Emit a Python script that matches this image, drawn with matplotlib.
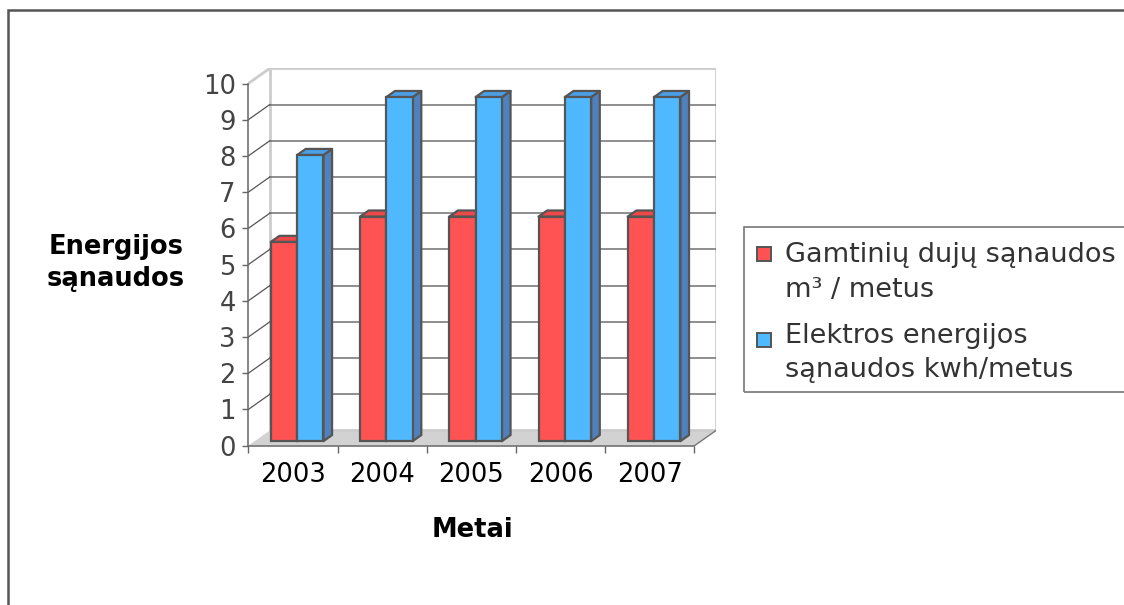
import matplotlib
matplotlib.use("Agg")
import matplotlib.pyplot as plt
from matplotlib.patches import Polygon, Rectangle

# ---- data ----
years = ["2003", "2004", "2005", "2006", "2007"]
gas_use = [5.5, 6.2, 6.2, 6.2, 6.2]
electricity_use = [7.9, 9.5, 9.5, 9.5, 9.5]
series_labels = ["Gamtinių dujų sąnaudos\nm³ / metus",
                 "Elektros energijos\nsąnaudos kwh/metus"]
y_ticks = list(range(0, 11))

plt.rcParams['font.family'] = ['DejaVu Sans']

W, H = 1124, 605
fig = plt.figure(figsize=(W / 100, H / 100), dpi=100)


def fx(px):
    return px / W


def fy(py):
    return 1 - py / H


# outer frame (runs off the right and bottom edges)
fig.patches.append(Rectangle((fx(8), fy(640)), fx(1160) - fx(8), fy(10) - fy(640),
                             transform=fig.transFigure, fill=False,
                             edgecolor='#555555', lw=1.8, zorder=0))

ax = fig.add_axes([fx(248.3), fy(445.7), fx(716) - fx(248.3), fy(68.3) - fy(445.7)])

n = len(years)
ymax = 10
dx, dy = 0.241, 0.42          # depth vector (data units)
f0, fd = 0.30, 0.40           # bar front depth and bar thickness (fractions)
bw = 0.295                    # bar width
offsets = [0.18, 0.475]
front_cols = ['#FF5252', '#4FB8FF']
top_cols = ['#EE4848', '#4A9FE6']
side_cols = ['#C84040', '#4F81BD']
edge = '#555555'

ax.set_xlim(0, n + dx)
ax.set_ylim(0, ymax + dy)

# floor
ax.add_patch(Polygon([(0, 0), (n, 0), (n + dx, dy), (dx, dy)], closed=True,
                     facecolor='#D2D2D2', edgecolor='none', zorder=1))
ax.plot([n, n + dx], [0, dy], color='#777777', lw=1, zorder=1.5)

# back wall
ax.add_patch(Rectangle((dx, dy), n, ymax, facecolor='white',
                       edgecolor='#CCCCCC', lw=2, zorder=1.2))
for v in y_ticks[1:-1]:
    ax.plot([dx, n + dx], [v + dy, v + dy], color='#707070', lw=1.1, zorder=1.4)
    ax.plot([0, dx], [v, v + dy], color='#555555', lw=0.9, zorder=1.4)
ax.plot([0, dx], [ymax, ymax + dy], color='#CCCCCC', lw=2, zorder=1.4)

# bars
base = f0 * dy
for s, vals in enumerate([gas_use, electricity_use]):
    z = 3 + s
    xs = [i + offsets[s] + f0 * dx for i in range(n)]
    for x, v in zip(xs, vals):
        top = v + base
        ax.add_patch(Polygon([(x + bw, base), (x + bw + fd * dx, base + fd * dy),
                              (x + bw + fd * dx, top + fd * dy), (x + bw, top)],
                             closed=True, facecolor=side_cols[s], edgecolor=edge,
                             lw=1.6, joinstyle='round', zorder=z))
        ax.add_patch(Polygon([(x, top), (x + bw, top),
                              (x + bw + fd * dx, top + fd * dy), (x + fd * dx, top + fd * dy)],
                             closed=True, facecolor=top_cols[s], edgecolor=edge,
                             lw=1.6, joinstyle='round', zorder=z))
    ax.bar(xs, vals, width=bw, bottom=base, align='edge', color=front_cols[s],
           edgecolor=edge, linewidth=1.6, zorder=z + 0.5)

# axes lines, ticks and labels
for side in ['top', 'right']:
    ax.spines[side].set_visible(False)
ax.spines['left'].set_bounds(0, ymax)
ax.spines['bottom'].set_bounds(0, n)
for side in ['left', 'bottom']:
    ax.spines[side].set_color('#666666')
    ax.spines[side].set_linewidth(1.1)
    ax.spines[side].set_zorder(6)

ax.set_yticks(y_ticks)
ax.set_yticklabels([str(t) for t in y_ticks])
ax.tick_params(axis='y', length=4, width=1, color='#666666', labelsize=18.5,
               labelcolor='#444444', pad=5)

ax.set_xticks(range(n + 1))
ax.set_xticklabels([''] * (n + 1))
ax.set_xticks([i + 0.5 for i in range(n)], minor=True)
ax.set_xticklabels(years, minor=True)
ax.tick_params(axis='x', which='major', length=5, width=1, color='#666666')
ax.tick_params(axis='x', which='minor', length=0, labelsize=18.5,
               labelcolor='black', pad=12)
ax.patch.set_visible(False)

# axis titles
fig.text(fx(116), fy(263), "Energijos\nsąnaudos", ha='center', va='center',
         fontsize=18.5, fontweight='bold', linespacing=1.25)
fig.text(fx(472), fy(530), "Metai", ha='center', va='center',
         fontsize=18.5, fontweight='bold')

# legend
fig.patches.append(Rectangle((fx(744), fy(392)), fx(1160) - fx(744), fy(227) - fy(392),
                             transform=fig.transFigure, fill=False,
                             edgecolor='#777777', lw=1.2, zorder=5))
sq_tops = [247, 333]
text_rows = [(262, 297), (343, 377)]
for s in range(2):
    fig.patches.append(Rectangle((fx(757), fy(sq_tops[s] + 14)), fx(14), 14 / H,
                                 transform=fig.transFigure, facecolor=front_cols[s],
                                 edgecolor=edge, lw=1.4, zorder=6))
    for line, yb in zip(series_labels[s].split("\n"), text_rows[s]):
        fig.text(fx(785), fy(yb), line, ha='left', va='baseline',
                 fontsize=19.5, color='#333333')

fig.savefig("out.png", dpi=100)
